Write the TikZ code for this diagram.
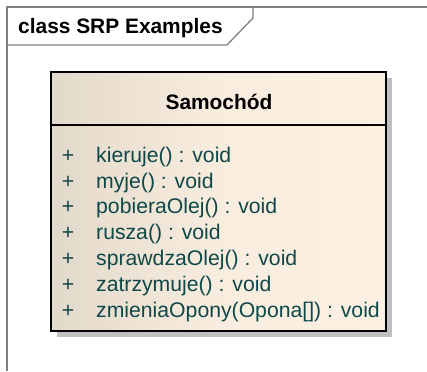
\documentclass[tikz,border=0pt]{standalone}
\usepackage{fontspec}
\setmainfont{Liberation Sans}
\definecolor{framegray}{HTML}{808080}
\definecolor{shadowgray}{HTML}{C0C0C0}
\definecolor{fillleft}{HTML}{E3D9CA}
\definecolor{fillright}{HTML}{FBF0E2}
\definecolor{optext}{HTML}{0E4848}
\begin{document}
\begin{tikzpicture}[x=1pt,y=-1pt,
  frameline/.style={draw=framegray,line width=1.3pt},
  boxline/.style={draw=black,line width=2pt},
  optxt/.style={anchor=base west,inner sep=0pt,text=optext,font=\fontsize{21.2}{25}\selectfont},
  vis/.style={anchor=base,inner sep=0pt,text=optext,font=\fontsize{21.2}{25}\selectfont},
  titletxt/.style={inner sep=0pt,font=\fontsize{20.9}{25}\selectfont\bfseries}]
\useasboundingbox (0,0) rectangle (427,371);
% frame
\draw[frameline] (427,7) -- (7,7) -- (7,371);
\draw[frameline] (7,45) -- (227,45) -- (253,18) -- (253,7);
\node[titletxt,anchor=base west] (frametitle) at (18,34) {class SRP Examples};
% class box
\fill[shadowgray] (57,78) rectangle (392,337);
\shade[left color=fillleft,right color=fillright,middle color=fillright!85!fillleft] (51,72) rectangle (386,331);
\draw[boxline] (51,72) rectangle (386,331);
\draw[boxline] (51,125) -- (386,125);
\node[titletxt,anchor=base] (classname) at (219,110) {Samochód};
% operations
\foreach \nm/\y/\t in {o1/162/{kieruje() : void},o2/188/{myje() : void},o3/213/{pobieraOlej() : void},o4/239/{rusza() : void},o5/265/{sprawdzaOlej() : void},o6/291/{zatrzymuje() : void},o7/317/{zmieniaOpony(Opona[]) : void}}{
  \node[vis] (\nm v) at (68,\y) {+};
  \node[optxt] (\nm) at (96,\y) {\t};
}
\end{tikzpicture}
\end{document}
